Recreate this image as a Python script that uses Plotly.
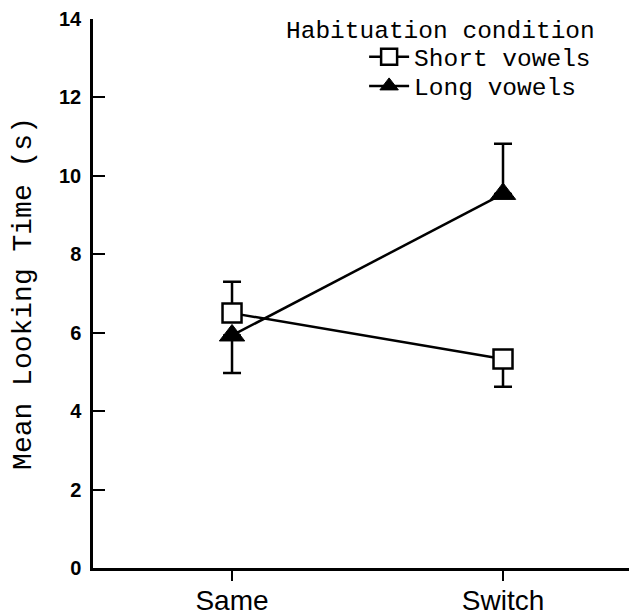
import plotly.graph_objects as go

conditions = ["Same", "Switch"]
cond_pos = [0, 1]
short_mean = [6.50, 5.33]
short_err_plus = [0.80, 0.0]
short_err_minus = [0.0, 0.71]
long_mean = [5.93, 9.54]
long_err_plus = [0.0, 1.28]
long_err_minus = [0.96, 0.0]
y_ticks = [0, 2, 4, 6, 8, 10, 12, 14]

mono = "Liberation Mono"
sans = "Liberation Sans"

fig = go.Figure()
fig.add_trace(go.Scatter(
    x=cond_pos, y=short_mean, name="Short vowels", mode="lines+markers",
    legend="legend",
    line=dict(color="black", width=2.5),
    marker=dict(symbol="square", size=19, color="white",
                line=dict(color="black", width=2.5)),
    error_y=dict(type="data", symmetric=False, array=short_err_plus,
                 arrayminus=short_err_minus, color="black", thickness=2.5, width=9),
))
fig.add_trace(go.Scatter(
    x=cond_pos, y=long_mean, name="Long vowels", mode="lines+markers",
    legend="legend2",
    line=dict(color="black", width=2.5),
    marker=dict(symbol="triangle-up", size=22, color="black",
                line=dict(color="black", width=1)),
    error_y=dict(type="data", symmetric=False, array=long_err_plus,
                 arrayminus=long_err_minus, color="black", thickness=2.5, width=9),
))

leg_common = dict(xanchor="left", yanchor="middle",
                  font=dict(family=mono, size=24.5, color="black"),
                  bgcolor="rgba(0,0,0,0)", itemwidth=40)

fig.update_layout(
    width=629, height=606,
    margin=dict(l=85, r=5, t=11, b=46),
    plot_bgcolor="white", paper_bgcolor="white",
    showlegend=True,
    legend=dict(x=0.503, y=0.931, **leg_common),
    legend2=dict(x=0.503, y=0.878, **leg_common),
    xaxis=dict(range=[-0.513, 1.476], tickvals=cond_pos, ticktext=conditions,
               automargin=False,
               showgrid=False, zeroline=False, showline=True, linecolor="black",
               linewidth=2.5, ticks="outside", ticklen=10, tickwidth=2, tickcolor="black",
               ticklabelstandoff=-4,
               tickfont=dict(family=sans, size=28, color="black")),
    yaxis=dict(range=[0, 14], tickvals=y_ticks, showgrid=False, zeroline=False,
               automargin=False,
               showline=True, linecolor="black", linewidth=2.5, ticks="inside",
               ticklen=12, tickwidth=2, tickcolor="black", ticklabelstandoff=5,
               tickfont=dict(family=sans, size=20, color="black", weight="bold"),
               title=dict(text="Mean Looking Time (s)", standoff=20,
                          font=dict(family=mono, size=28, color="black"))),
    annotations=[dict(text="Habituation condition", x=0.354, y=0.978, xref="paper",
                      yref="paper", xanchor="left", yanchor="middle", showarrow=False,
                      font=dict(family=mono, size=24.5, color="black"))],
)

fig.write_html("out.html")
